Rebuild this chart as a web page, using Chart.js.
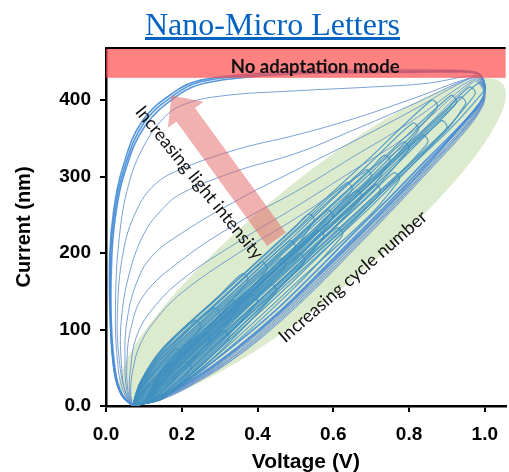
<!DOCTYPE html>
<html>
<head>
<meta charset="utf-8">
<script src="https://cdn.jsdelivr.net/npm/chart.js@4.4.0/dist/chart.umd.min.js"></script>
<style>
html,body{margin:0;padding:0;background:#fff;}
#wrap{position:relative;width:509px;height:472px;overflow:hidden;}
#title{position:absolute;left:145px;top:8px;font:32px "Liberation Serif",serif;line-height:1;color:#0563c1;text-decoration:underline;white-space:nowrap;}
canvas{position:absolute;left:0;top:0;}
</style>
</head>
<body>
<div id="wrap">
<canvas id="c" width="509" height="472"></canvas>
<div id="title">Nano-Micro Letters</div>
</div>
<script>
// axis ticks
const xTicks=[0,0.2,0.4,0.6,0.8,1.0]
const xTickLabels=['0.0','0.2','0.4','0.6','0.8','1.0']
const yTicks=[0,100,200,300,400]
const yTickLabels=['0.0','100','200','300','400']

// "increasing light intensity" loops, [voltage, current]
const light1=[[0.07,0],[0.04,15],[0.022,45],[0.012,110],[0.012,195],[0.022,250],[0.045,305],[0.1,370],[0.19,410],[0.25,424],[0.38,432],[0.5,436],[0.7,437],[0.9,437],[0.97,436],[0.99,431],[1.0,418],[0.995,402],[0.96,378],[0.85,320],[0.75,268],[0.65,218],[0.55,168],[0.45,120],[0.35,78],[0.25,42],[0.15,13],[0.07,0]]
const light1b=[[0.073,0],[0.043,15],[0.025,45],[0.014,110],[0.015,192],[0.025,248],[0.048,303],[0.103,366],[0.195,408],[0.26,422],[0.4,431],[0.55,435],[0.75,436],[0.9,437],[0.97,436],[0.99,430],[1.0,416],[0.993,400],[0.95,374],[0.85,324],[0.75,273],[0.65,224],[0.55,174],[0.45,126],[0.35,84],[0.25,46],[0.15,15],[0.073,0]]
const light1c=[[0.07,0],[0.039,17],[0.021,48],[0.011,115],[0.01,198],[0.02,254],[0.042,308],[0.095,372],[0.185,412],[0.25,426],[0.38,434],[0.5,438],[0.7,439],[0.9,439],[0.97,437],[0.99,432],[1.0,419],[0.996,404],[0.96,380],[0.85,316],[0.75,264],[0.65,214],[0.55,165],[0.45,118],[0.35,76],[0.25,40],[0.15,12],[0.07,0]]
const light2=[[0.07,0],[0.045,20],[0.03,60],[0.025,130],[0.035,220],[0.06,290],[0.1,340],[0.15,375],[0.2,393],[0.3,405],[0.5,412],[0.7,417],[0.85,422],[0.97,432],[0.99,428],[1.0,415],[0.993,398],[0.95,370],[0.85,318],[0.75,266],[0.65,216],[0.55,166],[0.45,119],[0.35,77],[0.25,41],[0.15,13],[0.07,0]]
const light3=[[0.07,0],[0.05,20],[0.035,60],[0.03,120],[0.045,200],[0.08,255],[0.13,290],[0.2,310],[0.35,336],[0.5,354],[0.65,375],[0.8,400],[0.97,430],[0.99,426],[1.0,412],[0.99,396],[0.95,368],[0.85,315],[0.75,262],[0.65,212],[0.55,162],[0.45,116],[0.35,74],[0.25,39],[0.15,12],[0.07,0]]
const light4=[[0.07,0],[0.05,20],[0.04,60],[0.04,110],[0.06,170],[0.1,225],[0.15,258],[0.2,278],[0.35,308],[0.5,330],[0.65,360],[0.8,392],[0.97,430],[0.99,425],[1.0,410],[0.99,394],[0.95,366],[0.85,313],[0.75,260],[0.65,210],[0.55,160],[0.45,114],[0.35,72],[0.25,38],[0.15,11],[0.07,0]]
const light5=[[0.07,0],[0.055,20],[0.05,60],[0.055,110],[0.08,160],[0.12,195],[0.2,226],[0.35,270],[0.5,308],[0.65,345],[0.8,384],[0.97,430],[0.99,424],[1.0,409],[0.99,392],[0.95,365],[0.85,311],[0.75,258],[0.65,208],[0.55,158],[0.45,112],[0.35,70],[0.25,37],[0.15,11],[0.07,0]]
const light6=[[0.07,0],[0.058,20],[0.055,55],[0.065,100],[0.1,145],[0.2,191],[0.35,240],[0.5,280],[0.65,325],[0.8,370],[0.97,428],[0.99,422],[1.0,408],[0.99,391],[0.95,364],[0.85,310],[0.75,257],[0.65,206],[0.55,156],[0.45,110],[0.35,69],[0.25,36],[0.15,10],[0.07,0]]
const light7=[[0.07,0],[0.062,20],[0.065,50],[0.08,90],[0.12,125],[0.2,165],[0.35,215],[0.5,260],[0.65,307],[0.8,355],[0.97,426],[0.99,420],[1.0,406],[0.99,390],[0.95,362],[0.85,308],[0.75,255],[0.65,204],[0.55,154],[0.45,108],[0.35,67],[0.25,35],[0.15,10],[0.07,0]]
const light8=[[0.07,0],[0.065,20],[0.072,50],[0.09,80],[0.13,112],[0.2,148],[0.35,200],[0.5,245],[0.65,295],[0.8,345],[0.97,424],[0.99,418],[1.0,404],[0.99,388],[0.95,360],[0.85,306],[0.75,253],[0.65,202],[0.55,152],[0.45,106],[0.35,66],[0.25,34],[0.15,9],[0.07,0]]

// "increasing cycle number" loops
const cyc1=[[0.07,0],[0.09,22],[0.15,58],[0.185,75],[0.2,68],[0.19,59],[0.15,32],[0.1,4],[0.07,0]]
const cyc2=[[0.07,0],[0.09,8],[0.15,30],[0.21,58],[0.225,51],[0.215,42],[0.15,10],[0.1,3],[0.07,0]]
const cyc3=[[0.07,0],[0.09,29],[0.15,72],[0.235,112],[0.25,105],[0.24,96],[0.15,46],[0.1,5],[0.07,0]]
const cyc4=[[0.07,0],[0.09,16],[0.15,45],[0.26,96],[0.275,89],[0.265,80],[0.15,19],[0.1,4],[0.07,0]]
const cyc5=[[0.07,0],[0.09,26],[0.15,65],[0.285,128],[0.3,121],[0.29,112],[0.15,39],[0.1,5],[0.07,0]]
const cyc6=[[0.07,0],[0.09,5],[0.15,24],[0.31,98],[0.325,91],[0.315,82],[0.15,10],[0.1,3],[0.07,0]]
const cyc7=[[0.07,0],[0.09,20],[0.15,53],[0.3,122],[0.335,138],[0.35,131],[0.34,122],[0.3,96],[0.15,27],[0.1,4],[0.07,0]]
const cyc8=[[0.07,0],[0.09,31],[0.15,76],[0.3,145],[0.36,173],[0.375,166],[0.365,157],[0.3,119],[0.15,50],[0.1,5],[0.07,0]]
const cyc9=[[0.07,0],[0.09,12],[0.15,38],[0.3,107],[0.385,146],[0.4,139],[0.39,130],[0.3,81],[0.15,12],[0.1,3],[0.07,0]]
const cyc10=[[0.07,0],[0.09,27],[0.15,68],[0.3,137],[0.41,188],[0.425,181],[0.415,172],[0.3,111],[0.15,42],[0.1,5],[0.07,0]]
const cyc11=[[0.07,0],[0.09,7],[0.15,28],[0.3,97],[0.435,159],[0.45,152],[0.44,143],[0.3,71],[0.15,10],[0.1,3],[0.07,0]]
const cyc12=[[0.07,0],[0.09,18],[0.15,50],[0.3,119],[0.46,193],[0.475,186],[0.465,177],[0.3,93],[0.15,24],[0.1,4],[0.07,0]]
const cyc13=[[0.07,0],[0.09,24],[0.15,62],[0.3,131],[0.485,216],[0.5,209],[0.49,200],[0.3,105],[0.15,36],[0.1,5],[0.07,0]]
const cyc14=[[0.07,0],[0.09,10],[0.15,34],[0.3,103],[0.51,199],[0.525,192],[0.515,183],[0.3,77],[0.15,10],[0.1,3],[0.07,0]]
const cyc15=[[0.07,0],[0.09,30],[0.15,74],[0.3,143],[0.5,234],[0.535,251],[0.55,244],[0.54,235],[0.5,208],[0.3,117],[0.15,48],[0.1,5],[0.07,0]]
const cyc16=[[0.07,0],[0.09,14],[0.15,42],[0.3,111],[0.5,202],[0.56,230],[0.575,223],[0.565,214],[0.5,176],[0.3,85],[0.15,16],[0.1,4],[0.07,0]]
const cyc17=[[0.07,0],[0.09,21],[0.15,56],[0.3,125],[0.5,216],[0.585,256],[0.6,249],[0.59,240],[0.5,190],[0.3,99],[0.15,30],[0.1,4],[0.07,0]]
const cyc18=[[0.07,0],[0.09,5],[0.15,22],[0.3,91],[0.5,182],[0.61,233],[0.625,226],[0.615,217],[0.5,156],[0.3,65],[0.15,10],[0.1,3],[0.07,0]]
const cyc19=[[0.07,0],[0.09,28],[0.15,70],[0.3,139],[0.5,230],[0.635,292],[0.65,285],[0.64,276],[0.5,204],[0.3,113],[0.15,44],[0.1,5],[0.07,0]]
const cyc20=[[0.07,0],[0.09,17],[0.15,48],[0.3,117],[0.5,208],[0.66,282],[0.675,275],[0.665,266],[0.5,182],[0.3,91],[0.15,22],[0.1,4],[0.07,0]]
const cyc21=[[0.07,0],[0.09,25],[0.15,64],[0.3,133],[0.5,224],[0.685,309],[0.7,302],[0.69,293],[0.5,198],[0.3,107],[0.15,38],[0.1,5],[0.07,0]]
const cyc22=[[0.07,0],[0.09,9],[0.15,32],[0.3,101],[0.5,192],[0.71,289],[0.725,282],[0.715,273],[0.5,166],[0.3,75],[0.15,10],[0.1,3],[0.07,0]]
const cyc23=[[0.07,0],[0.09,23],[0.15,60],[0.3,129],[0.5,220],[0.7,311],[0.735,328],[0.75,321],[0.74,312],[0.7,285],[0.5,194],[0.3,103],[0.15,34],[0.1,5],[0.07,0]]
const cyc24=[[0.07,0],[0.09,6],[0.15,26],[0.3,95],[0.5,186],[0.7,277],[0.76,305],[0.775,298],[0.765,289],[0.7,251],[0.5,160],[0.3,69],[0.15,10],[0.1,3],[0.07,0]]
const cyc25=[[0.07,0],[0.09,20],[0.15,54],[0.3,123],[0.5,214],[0.7,305],[0.785,345],[0.8,338],[0.79,329],[0.7,279],[0.5,188],[0.3,97],[0.15,28],[0.1,4],[0.07,0]]
const cyc26=[[0.07,0],[0.09,27],[0.15,68],[0.3,137],[0.5,228],[0.7,319],[0.81,370],[0.825,363],[0.815,354],[0.7,293],[0.5,202],[0.3,111],[0.15,42],[0.1,5],[0.07,0]]
const cyc27=[[0.07,0],[0.09,13],[0.15,40],[0.3,109],[0.5,200],[0.7,291],[0.835,354],[0.85,347],[0.84,338],[0.7,265],[0.5,174],[0.3,83],[0.15,14],[0.1,4],[0.07,0]]
const cyc28=[[0.07,0],[0.09,30],[0.15,75],[0.3,144],[0.5,235],[0.7,326],[0.86,400],[0.875,393],[0.865,384],[0.7,300],[0.5,209],[0.3,118],[0.15,49],[0.1,5],[0.07,0]]
const cyc29=[[0.07,0],[0.09,11],[0.15,36],[0.3,105],[0.5,196],[0.7,287],[0.885,373],[0.9,366],[0.89,357],[0.7,261],[0.5,170],[0.3,79],[0.15,10],[0.1,3],[0.07,0]]
const cyc30=[[0.07,0],[0.09,22],[0.15,58],[0.3,127],[0.5,218],[0.7,309],[0.91,406],[0.925,399],[0.915,390],[0.7,283],[0.5,192],[0.3,101],[0.15,32],[0.1,4],[0.07,0]]
const cyc31=[[0.07,0],[0.09,15],[0.15,44],[0.3,113],[0.5,204],[0.7,295],[0.9,387],[0.935,404],[0.95,397],[0.94,388],[0.9,361],[0.7,269],[0.5,178],[0.3,87],[0.15,18],[0.1,4],[0.07,0]]
const cyc32=[[0.07,0],[0.09,16],[0.15,46],[0.3,115],[0.5,206],[0.7,297],[0.9,389],[0.96,417],[0.975,410],[0.965,401],[0.9,363],[0.7,271],[0.5,180],[0.3,89],[0.15,20],[0.1,4],[0.07,0]]
const cyc33=[[0.07,0],[0.09,14],[0.15,41],[0.3,110],[0.5,201],[0.7,292],[0.9,384],[0.985,423],[1.0,416],[0.99,407],[0.9,358],[0.7,266],[0.5,175],[0.3,84],[0.15,15],[0.1,4],[0.07,0]]

const outerLoops=[light1,light1b,light1c]
const lightLoops=[light2,light3,light4,light5,light6,light7,light8]
const cycleLoops=[cyc1,cyc2,cyc3,cyc4,cyc5,cyc6,cyc7,cyc8,cyc9,cyc10,cyc11,cyc12,cyc13,cyc14,cyc15,cyc16,cyc17,
  cyc18,cyc19,cyc20,cyc21,cyc22,cyc23,cyc24,cyc25,cyc26,cyc27,cyc28,cyc29,cyc30,cyc31,cyc32,cyc33]

function toPts(arr){ return arr.map(p=>({x:p[0],y:p[1]})) }

let datasets=[]
for(let i=0;i<cycleLoops.length;i++){
  datasets.push({data:toPts(cycleLoops[i]),borderColor:'rgba(65,145,192,0.85)',borderWidth:1.2,tension:0.3})
}
for(let i=0;i<lightLoops.length;i++){
  datasets.push({data:toPts(lightLoops[i]),borderColor:'rgba(100,145,205,0.85)',borderWidth:1,tension:0.4})
}
for(let i=0;i<outerLoops.length;i++){
  datasets.push({data:toPts(outerLoops[i]),borderColor:'rgba(70,140,215,0.9)',borderWidth:1.6,tension:0.4})
}
datasets.forEach(d=>{d.showLine=true;d.pointRadius=0;d.fill=false})

const decor={
  id:'decor',
  beforeDatasetsDraw(chart){
    const {ctx,scales:{x,y}}=chart
    // green zone
    ctx.save()
    ctx.fillStyle='rgba(205,225,185,0.7)'
    ctx.beginPath()
    ctx.ellipse(x.getPixelForValue(0.545),y.getPixelForValue(217),246,56,-39.4*Math.PI/180,0,Math.PI*2)
    ctx.fill()
    ctx.restore()
  },
  afterDatasetsDraw(chart){
    const {ctx,chartArea:a,scales:{x,y}}=chart
    ctx.save()
    // red band
    let b1=y.getPixelForValue(429)
    ctx.fillStyle='rgba(255,70,70,0.68)'
    ctx.fillRect(a.left,a.top,a.right-a.left,b1-a.top)
    // arrow
    let tx=x.getPixelForValue(0.45),ty=y.getPixelForValue(218)
    let hx=x.getPixelForValue(0.173),hy=y.getPixelForValue(406)
    let ang=Math.atan2(hy-ty,hx-tx),len=Math.hypot(hx-tx,hy-ty)
    ctx.translate(tx,ty);ctx.rotate(ang)
    ctx.fillStyle='rgba(228,100,100,0.5)'
    ctx.beginPath()
    ctx.moveTo(0,-11.5);ctx.lineTo(len-24,-11.5);ctx.lineTo(len-24,-22);ctx.lineTo(len,0)
    ctx.lineTo(len-24,22);ctx.lineTo(len-24,11.5);ctx.lineTo(0,11.5);ctx.closePath()
    ctx.fill()
    ctx.restore()
    // top frame line
    ctx.save()
    ctx.strokeStyle='#000';ctx.lineWidth=2
    ctx.beginPath();ctx.moveTo(a.left,a.top);ctx.lineTo(a.right,a.top);ctx.stroke()
    // labels
    ctx.fillStyle='#111';ctx.textAlign='center';ctx.textBaseline='middle'
    ctx.font='bold 18.5px Lato'
    ctx.fillText('No adaptation mode',x.getPixelForValue(0.552),y.getPixelForValue(443))
    ctx.font='18px Lato'
    ctx.save()
    ctx.translate(x.getPixelForValue(0.246),y.getPixelForValue(292));ctx.rotate(51*Math.PI/180)
    ctx.fillText('Increasing light intensity',0,0)
    ctx.restore()
    ctx.save()
    ctx.translate(x.getPixelForValue(0.652),y.getPixelForValue(169));ctx.rotate(-41*Math.PI/180)
    ctx.fillText('Increasing cycle number',0,0)
    ctx.restore()
    ctx.restore()
  }
}

const axisFont={family:'Liberation Sans',size:19,weight:'bold'}
new Chart(document.getElementById('c'),{
  type:'scatter',
  data:{datasets:datasets},
  options:{
    responsive:false,animation:false,devicePixelRatio:1,
    layout:{padding:{top:48,left:0,right:0,bottom:0}},
    plugins:{legend:{display:false},tooltip:{enabled:false}},
    scales:{
      x:{type:'linear',min:0,max:1.055,
        afterBuildTicks:s=>{s.ticks=xTicks.map(v=>({value:v}))},
        afterFit:s=>{s.height=66},
        ticks:{callback:(v,i)=>xTickLabels[i],font:axisFont,color:'#000',padding:11,maxRotation:0},
        grid:{drawOnChartArea:false,drawTicks:true,tickLength:6,lineWidth:2,color:'#000'},
        border:{color:'#000',width:2.5},
        title:{display:true,text:'Voltage (V)',font:{family:'Liberation Sans',size:21,weight:'bold'},color:'#000',padding:{top:0,bottom:-3}}
      },
      y:{type:'linear',min:0,max:468,
        afterBuildTicks:s=>{s.ticks=yTicks.map(v=>({value:v}))},
        afterFit:s=>{s.width=106},
        ticks:{callback:(v,i)=>yTickLabels[i],font:axisFont,color:'#000',padding:9},
        grid:{drawOnChartArea:false,drawTicks:true,tickLength:6,lineWidth:2,color:'#000'},
        border:{color:'#000',width:2.5},
        title:{display:true,text:'Current (nm)',font:{family:'Liberation Sans',size:20,weight:'bold'},color:'#000',padding:{top:12,bottom:0}}
      }
    }
  },
  plugins:[decor]
})
</script>
</body>
</html>
